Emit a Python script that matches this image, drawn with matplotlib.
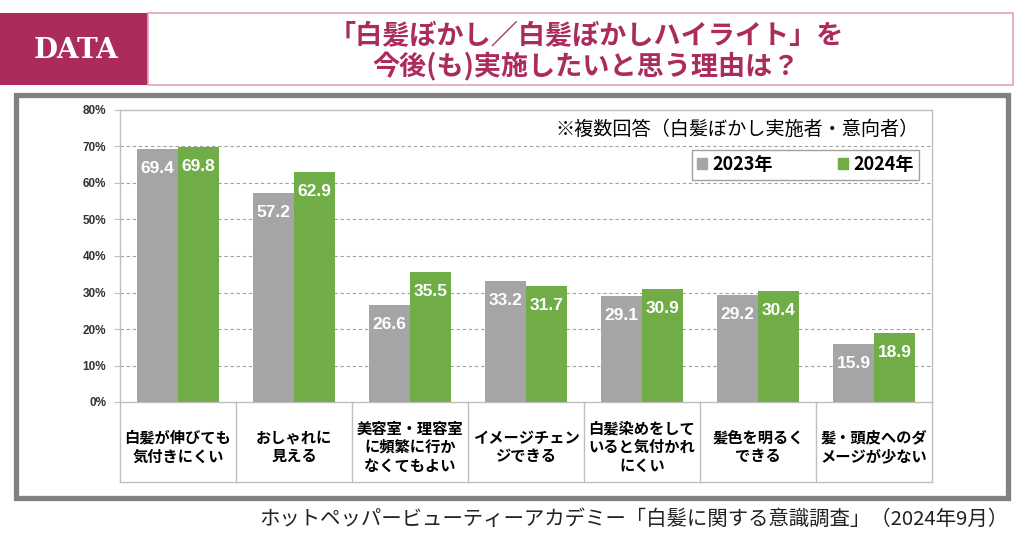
import numpy as np
import matplotlib
matplotlib.use("Agg")
import matplotlib.pyplot as plt
from matplotlib.patches import Rectangle, Patch

plt.rcParams['font.family'] = ['Noto Sans CJK JP', 'DejaVu Sans']

# data
categories = ["白髪が伸びても\n気付きにくい", "おしゃれに\n見える", "美容室・理容室\nに頻繁に行か\nなくてもよい",
              "イメージチェン\nジできる", "白髪染めをして\nいると気付かれ\nにくい", "髪色を明るく\nできる",
              "髪・頭皮へのダ\nメージが少ない"]
v2023 = [69.4, 57.2, 26.6, 33.2, 29.1, 29.2, 15.9]
v2024 = [69.8, 62.9, 35.5, 31.7, 30.9, 30.4, 18.9]
series_names = ["2023年", "2024年"]
yticks = [0, 10, 20, 30, 40, 50, 60, 70, 80]

title = "「白髪ぼかし／白髪ぼかしハイライト」を\n今後(も)実施したいと思う理由は？"
note = "※複数回答（白髪ぼかし実施者・意向者）"
source = "ホットペッパービューティーアカデミー「白髪に関する意識調査」（2024年9月）"

GRAY = '#a5a5a5'
GREEN = '#70ad47'
MAROON = '#ab2c5c'
LINE = '#bfbfbf'

fig = plt.figure(figsize=(10.24, 5.38), dpi=100)

# background layer in pixel coords
bg = fig.add_axes([0, 0, 1, 1], zorder=0)
bg.set_xlim(0, 1024)
bg.set_ylim(538, 0)
bg.axis('off')

bg.add_patch(Rectangle((0, 13), 148, 72, facecolor=MAROON, edgecolor='none'))
bg.add_patch(Rectangle((148, 13), 865, 72, facecolor='white', edgecolor='#e2a6bd', lw=1.2))
bg.text(76, 50, "DATA", color='white', fontsize=20, fontweight='bold',
        family=['DejaVu Serif'], ha='center', va='center')
bg.text(586, 51, title, color=MAROON, fontsize=19.5, fontweight='bold',
        ha='center', va='center', linespacing=1.15)
bg.add_patch(Rectangle((15.5, 94.5), 992, 403, facecolor='white', edgecolor='#808080', lw=3.8))
bg.text(1008, 519, source, fontsize=14.7, ha='right', va='center', color='#222222')

# chart
ax = fig.add_axes([120 / 1024, 1 - 402 / 538, 812 / 1024, 292 / 538], zorder=1)
x = np.arange(len(categories))
w = 0.353
b1 = ax.bar(x - w / 2, v2023, w, color=GRAY, zorder=3)
b2 = ax.bar(x + w / 2, v2024, w, color=GREEN, zorder=3)
for bars, vals in ((b1, v2023), (b2, v2024)):
    for rect, v in zip(bars, vals):
        ax.annotate(f"{v:.1f}", (rect.get_x() + rect.get_width() / 2, v),
                    xytext=(0, -14), textcoords='offset points', ha='center', va='center',
                    color='white', fontsize=12.5, fontweight='bold', family=['Liberation Sans'],
                    zorder=4)

ax.set_xlim(-0.5, len(categories) - 0.5)
ax.set_ylim(0, 80)
ax.set_yticks(yticks)
ax.set_yticklabels([f"{t}%" for t in yticks], fontsize=8.5, fontweight='bold',
                   family=['Liberation Sans'], color='#333333')
ax.tick_params(axis='y', length=4, color=LINE, pad=6)
ax.set_xticks([])
for t in yticks[1:-1]:
    ax.axhline(t, color='#a0a0a0', lw=0.8, ls=(0, (3, 2.5)), zorder=1)
for s in ax.spines.values():
    s.set_color(LINE)
    s.set_linewidth(1)

# category table under the axis
tr = ax.get_xaxis_transform()
for b in np.arange(-0.5, len(categories), 1.0):
    ax.plot([b, b], [0, -0.274], color=LINE, lw=1, transform=tr, clip_on=False)
ax.plot([-0.5, len(categories) - 0.5], [-0.274, -0.274], color=LINE, lw=1, transform=tr, clip_on=False)
for i, c in enumerate(categories):
    ax.text(i, -0.154, c, transform=tr, ha='center', va='center', fontsize=11,
            fontweight='bold', linespacing=1.2)

ax.text(0.983, 0.935, note, transform=ax.transAxes, ha='right', va='center', fontsize=13.8)
handles = [Patch(color=GRAY), Patch(color=GREEN)]
leg = ax.legend(handles, series_names, ncol=2, loc='upper right', bbox_to_anchor=(0.991, 0.882),
                fancybox=False, edgecolor='#a0a0a0', handlelength=0.55, handleheight=0.55,
                handletextpad=0.3, columnspacing=3.6, borderpad=0.3, borderaxespad=0.3,
                prop={'weight': 'bold', 'size': 13}, framealpha=1)
leg.get_frame().set_linewidth(1)
leg.set_zorder(5)

fig.savefig("out.png", dpi=100)
